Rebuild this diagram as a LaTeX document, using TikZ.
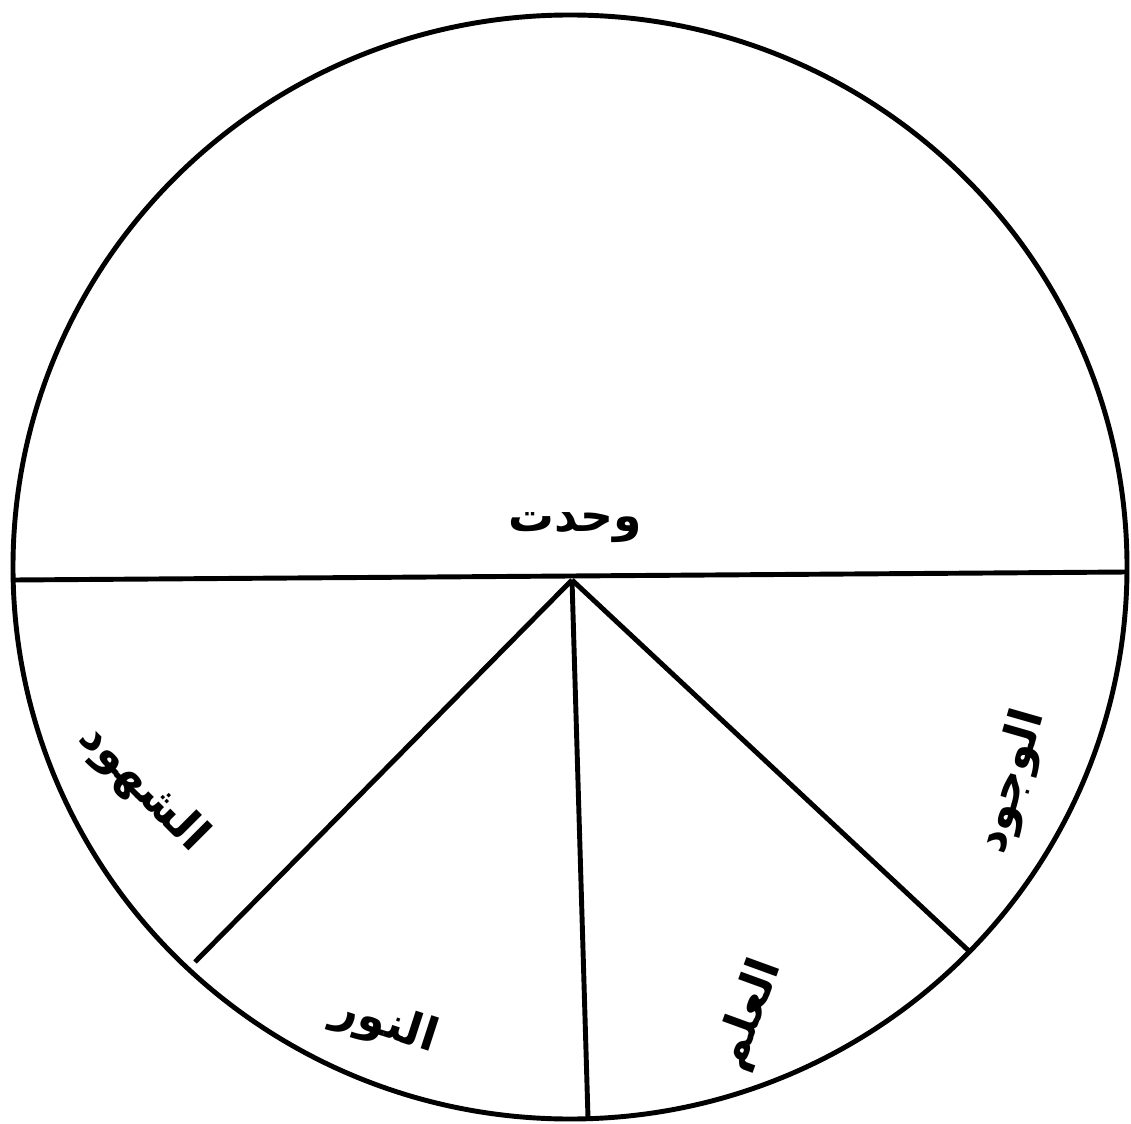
\documentclass[tikz,border=0pt]{standalone}
\usepackage{fontspec}
\newfontfamily\arabicfont[Script=Arabic]{DejaVu Sans}
\TeXXeTstate=1
\begin{document}
\begin{tikzpicture}[x=0.02cm,y=-0.02cm,
  ink/.style={line width=2.8pt,black},
  lbl/.style={font=\arabicfont\bfseries\fontsize{26}{30}\selectfont,inner sep=1pt}]
\useasboundingbox (0,0) rectangle (1131,1124);
\coordinate (c) at (570,567);
\draw[ink] (c) ellipse [x radius=557, y radius=552];
\coordinate (hl) at (14,580);
\coordinate (hr) at (1127,572);
\coordinate (o) at (572,580);
\coordinate (p1) at (195,962);
\coordinate (p2) at (588,1118);
\coordinate (p3) at (970,952);
\draw[ink] (hl) -- (hr);
\draw[ink] (o) -- (p1);
\draw[ink] (o) -- (p2);
\draw[ink] (o) -- (p3);
\node[lbl] (w) at (575,528) {\beginR وحدت\endR};
\node[lbl,rotate=74] (wj) at (1012,782) {\beginR الوجود\endR};
\node[lbl,rotate=70] (ilm) at (750,1015) {\beginR العلم\endR};
\node[lbl,rotate=-18] (nur) at (385,1025) {\beginR النور\endR};
\node[lbl,rotate=-45] (sh) at (143,788) {\beginR الشهود\endR};
\end{tikzpicture}
\end{document}
